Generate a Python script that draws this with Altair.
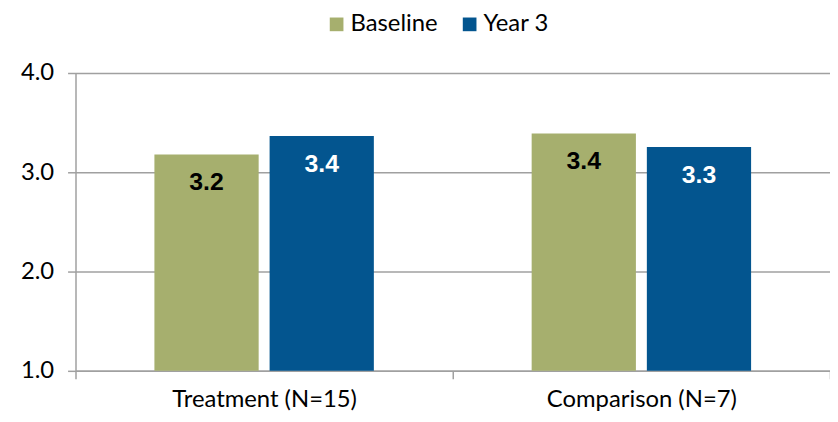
import altair as alt
import pandas as pd

groups = ["Treatment (N=15)", "Comparison (N=7)"]
series = ["Baseline", "Year 3"]
baseline = [3.18, 3.39]
year3 = [3.365, 3.255]
colors = ["#A6AF6E", "#03558F"]

rows = []
for g, b, y in zip(groups, baseline, year3):
    rows.append({"group": g, "series": "Baseline", "value": b})
    rows.append({"group": g, "series": "Year 3", "value": y})
df = pd.DataFrame(rows)

FONT = "Lato"

x = alt.X("group:N", sort=groups, title=None,
          scale=alt.Scale(paddingInner=0, paddingOuter=0),
          axis=alt.Axis(labelAngle=0, tickBand="extent", tickSize=8,
                        tickColor="#A0A0A0", domainColor="#A0A0A0",
                        domainWidth=1.5, tickWidth=1.5, labelLimit=0,
                        labelFont=FONT, labelFontSize=24, labelColor="black",
                        labelPadding=9))
xo = alt.XOffset("series:N", sort=series,
                 scale=alt.Scale(paddingInner=0.095, paddingOuter=0.685))
y = alt.Y("value:Q", title=None,
          scale=alt.Scale(domain=[1, 4], nice=False, zero=False),
          axis=alt.Axis(values=[1, 2, 3, 4], format=".1f", tickSize=8,
                        tickColor="#A0A0A0", domainColor="#A0A0A0",
                        domainWidth=1.5, tickWidth=1.5,
                        gridColor="#A0A0A0", gridWidth=1.5, grid=True,
                        labelFont=FONT, labelFontSize=24, labelColor="black",
                        labelPadding=14))

bars = alt.Chart(df).mark_bar().encode(
    x=x, xOffset=xo,
    y=y, y2=alt.Y2(datum=1),
    color=alt.Color("series:N", sort=series,
                    scale=alt.Scale(domain=series, range=colors),
                    legend=alt.Legend(title=None, orient="none", direction="horizontal",
                                      legendX=251, legendY=-61,
                                      symbolType="square", symbolSize=190,
                                      symbolStrokeWidth=0, labelLimit=0,
                                      labelFont=FONT, labelFontSize=24,
                                      labelColor="black", columnPadding=20,
                                      labelOffset=2)),
)

labels = alt.Chart(df).mark_text(font="Liberation Sans", fontWeight="bold",
                                 fontSize=25, dy=28, baseline="middle").encode(
    x=x, xOffset=xo, y=y,
    text=alt.Text("value:Q", format=".1f"),
    color=alt.condition(alt.datum.series == "Baseline",
                        alt.value("black"), alt.value("white")),
)

chart = alt.layer(bars, labels).properties(
    width=760, height=300,
    autosize=alt.AutoSizeParams(type="none"),
    padding={"left": 68, "top": 64, "right": 0, "bottom": 42},
).configure_view(stroke=None)

chart.save("out.html", embed_options={"renderer": "svg", "actions": False})
